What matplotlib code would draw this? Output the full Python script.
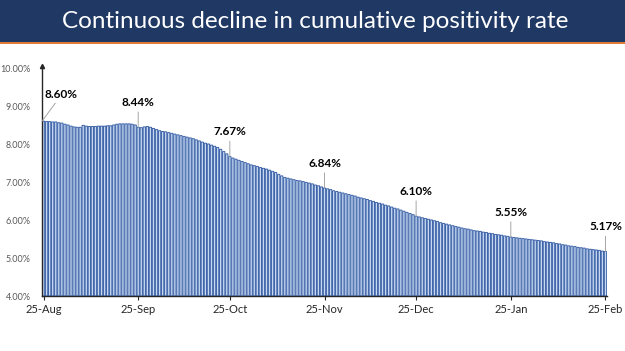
import matplotlib.pyplot as plt
import matplotlib.patches as patches
import pandas as pd

# cumulative positivity rate (%), daily from 25-Aug to 25-Feb
rate = [
    8.60, 8.59, 8.59, 8.58, 8.58, 8.56, 8.55, 8.52, 8.50, 8.47,
    8.45, 8.44, 8.44, 8.49, 8.47, 8.46, 8.46, 8.46, 8.47, 8.47,
    8.47, 8.48, 8.48, 8.50, 8.52, 8.53, 8.53, 8.53, 8.53, 8.52,
    8.50, 8.44, 8.43, 8.45, 8.46, 8.44, 8.41, 8.38, 8.35, 8.33,
    8.32, 8.30, 8.28, 8.26, 8.24, 8.22, 8.20, 8.18, 8.16, 8.14,
    8.11, 8.08, 8.05, 8.02, 8.00, 7.97, 7.94, 7.91, 7.86, 7.80,
    7.74, 7.67, 7.63, 7.60, 7.57, 7.54, 7.51, 7.48, 7.45, 7.43,
    7.41, 7.38, 7.36, 7.34, 7.31, 7.28, 7.25, 7.20, 7.16, 7.12,
    7.10, 7.08, 7.06, 7.04, 7.03, 7.01, 6.99, 6.97, 6.95, 6.92,
    6.90, 6.87, 6.84, 6.82, 6.80, 6.77, 6.75, 6.73, 6.71, 6.69,
    6.67, 6.65, 6.63, 6.60, 6.58, 6.56, 6.54, 6.51, 6.49, 6.46,
    6.44, 6.42, 6.39, 6.37, 6.34, 6.31, 6.29, 6.26, 6.23, 6.20,
    6.17, 6.14, 6.10, 6.08, 6.06, 6.04, 6.02, 6.00, 5.98, 5.96,
    5.93, 5.91, 5.89, 5.87, 5.85, 5.83, 5.81, 5.79, 5.77, 5.76,
    5.74, 5.72, 5.71, 5.70, 5.68, 5.67, 5.65, 5.64, 5.62, 5.61,
    5.60, 5.58, 5.57, 5.55, 5.54, 5.53, 5.52, 5.51, 5.50, 5.49,
    5.48, 5.47, 5.46, 5.45, 5.43, 5.42, 5.41, 5.40, 5.38, 5.37,
    5.35, 5.34, 5.32, 5.31, 5.30, 5.28, 5.27, 5.26, 5.24, 5.23,
    5.22, 5.21, 5.20, 5.18, 5.17,
]
dates = pd.date_range('2020-08-25', '2021-02-25', freq='D')
assert len(dates) == len(rate)

tick_dates = ['2020-08-25', '2020-09-25', '2020-10-25', '2020-11-25',
              '2020-12-25', '2021-01-25', '2021-02-25']
tick_labels = ['25-Aug', '25-Sep', '25-Oct', '25-Nov', '25-Dec', '25-Jan', '25-Feb']
yticks = [4, 5, 6, 7, 8, 9, 10]

# labelled points (same dates as the ticks)
label_dates = tick_dates
label_text = ['8.60%', '8.44%', '7.67%', '6.84%', '6.10%', '5.55%', '5.17%']

plt.rcParams['font.family'] = ['Lato', 'DejaVu Sans']

fig = plt.figure(figsize=(6.25, 3.51), dpi=100)

# title banner
fig.patches.append(patches.Rectangle((0, 1 - 42 / 351), 1, 42 / 351, transform=fig.transFigure,
                                     facecolor='#1f3864', edgecolor='none', zorder=0))
fig.patches.append(patches.Rectangle((0, 1 - 44 / 351), 1, 2 / 351, transform=fig.transFigure,
                                     facecolor='#e07b39', edgecolor='none', zorder=0))
fig.text(0.504, 1 - 21 / 351, 'Continuous decline in cumulative positivity rate',
         color='white', fontsize=17.5, ha='center', va='center')

ax = fig.add_axes([42 / 625, 1 - 296 / 351, 565 / 625, 228 / 351])
idx = list(range(len(rate)))
bars = ax.bar(idx, [r - 4 for r in rate], bottom=4, width=0.75,
              color='#c6d9f1', edgecolor='#3d62a8', linewidth=0.7)
for b in bars:
    b.set_snap(False)

ax.set_xlim(-0.5, len(rate) - 0.5)
ax.set_ylim(4, 10)
ax.set_yticks(yticks)
ax.set_yticklabels([f'{v:.2f}%' for v in yticks], fontsize=6.5, color='#595959')
pos = [dates.get_loc(pd.Timestamp(d)) for d in tick_dates]
ax.set_xticks(pos)
ax.set_xticklabels(tick_labels, fontsize=8, color='#262626')
ax.tick_params(axis='x', direction='out', length=3, width=0.8, color='#262626', pad=3)
ax.tick_params(axis='y', length=0, pad=8)
for s in ['top', 'right']:
    ax.spines[s].set_visible(False)
ax.spines['left'].set_color('#262626')
ax.spines['bottom'].set_color('#262626')
ax.spines['left'].set_linewidth(1)
ax.spines['bottom'].set_linewidth(1)
ax.plot([-0.5], [10.05], marker='^', color='#262626', markersize=3, clip_on=False)

for i, (d, t) in enumerate(zip(label_dates, label_text)):
    p = dates.get_loc(pd.Timestamp(d))
    v = rate[p]
    if i == 0:
        ax.annotate(t, xy=(p - 0.5, v), xytext=(14, 15), textcoords='offset points',
                    ha='center', va='bottom', fontsize=8.5, fontweight='bold',
                    arrowprops=dict(arrowstyle='-', color='#a6a6a6', lw=0.7, shrinkA=0, shrinkB=0))
    else:
        ax.annotate(t, xy=(p, v), xytext=(0, 14), textcoords='offset points',
                    ha='center', va='bottom', fontsize=8.5, fontweight='bold',
                    arrowprops=dict(arrowstyle='-', color='#a6a6a6', lw=0.7, shrinkA=1, shrinkB=0))

fig.savefig('out.png', dpi=100)
